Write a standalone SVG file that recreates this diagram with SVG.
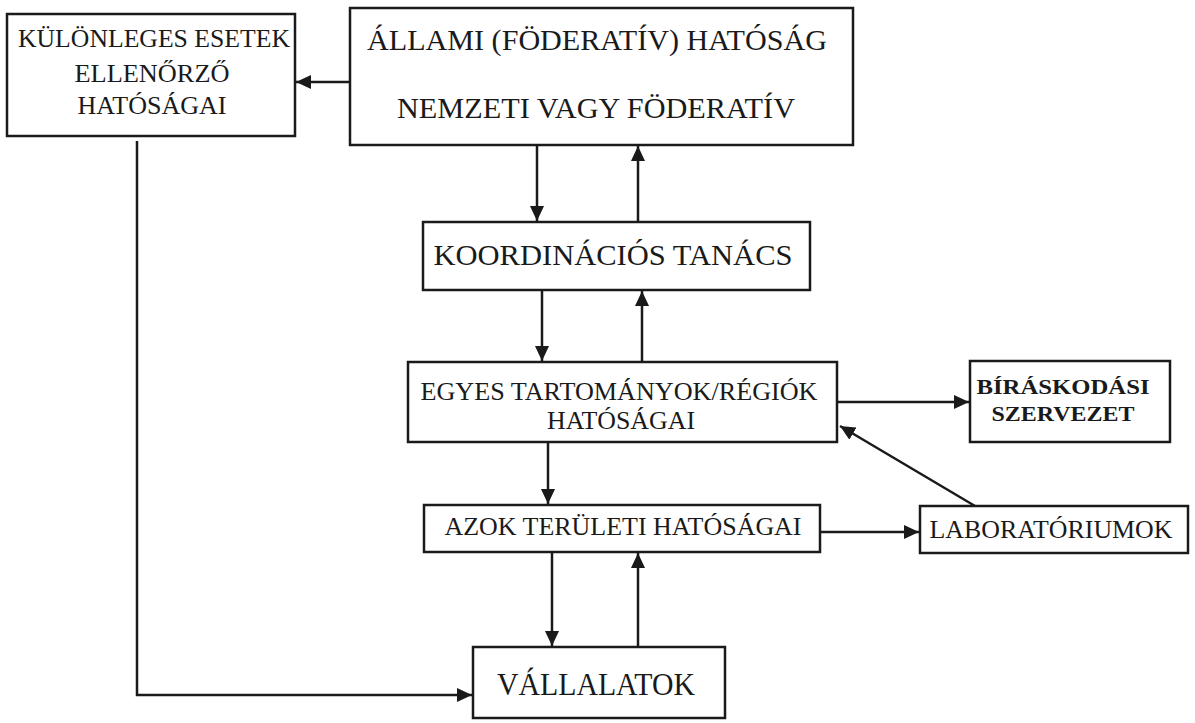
<svg xmlns="http://www.w3.org/2000/svg" width="1195" height="723" viewBox="0 0 1195 723">
<style>
.box{fill:#fff;stroke:#1a1a1a;stroke-width:2.5}
.t{font-family:"Liberation Serif","Times New Roman",serif;fill:#1a1a1a;text-anchor:middle}
.c{fill:none;stroke:#1a1a1a;stroke-width:2.5}
</style>
<defs>
<marker id="ah" markerUnits="userSpaceOnUse" markerWidth="16" markerHeight="14" refX="15" refY="7" orient="auto">
<path d="M0,0 L15,7 L0,14 z" fill="#1a1a1a"/>
</marker>
</defs>
<rect width="1195" height="723" fill="#fff"/>
<g id="connectors">
<line class="c" x1="350" y1="82" x2="296" y2="82" marker-end="url(#ah)"/>
<line class="c" x1="537" y1="146" x2="537" y2="221" marker-end="url(#ah)"/>
<line class="c" x1="638" y1="222" x2="638" y2="146" marker-end="url(#ah)"/>
<line class="c" x1="542" y1="291" x2="542" y2="361" marker-end="url(#ah)"/>
<line class="c" x1="642" y1="362" x2="642" y2="291" marker-end="url(#ah)"/>
<line class="c" x1="838" y1="402" x2="969" y2="402" marker-end="url(#ah)"/>
<line class="c" x1="975" y1="506" x2="840" y2="426" marker-end="url(#ah)"/>
<line class="c" x1="548" y1="443" x2="548" y2="504" marker-end="url(#ah)"/>
<line class="c" x1="821" y1="532" x2="919" y2="532" marker-end="url(#ah)"/>
<line class="c" x1="552" y1="553" x2="552" y2="646" marker-end="url(#ah)"/>
<line class="c" x1="638" y1="647" x2="638" y2="553" marker-end="url(#ah)"/>
<path class="c" d="M137,141 V695 H472" marker-end="url(#ah)"/>
</g>
<g id="kulonleges">
<rect class="box" x="7" y="14" width="288" height="122"/>
<text class="t" x="154" y="47" font-size="26" textLength="272" lengthAdjust="spacingAndGlyphs">KÜLÖNLEGES ESETEK</text>
<text class="t" x="152" y="82" font-size="26" textLength="155" lengthAdjust="spacingAndGlyphs">ELLENŐRZŐ</text>
<text class="t" x="152" y="114" font-size="26" textLength="149" lengthAdjust="spacingAndGlyphs">HATÓSÁGAI</text>
</g>
<g id="allami">
<rect class="box" x="350" y="8" width="503" height="137"/>
<text class="t" x="597" y="50" font-size="30" textLength="460" lengthAdjust="spacingAndGlyphs">ÁLLAMI (FÖDERATÍV) HATÓSÁG</text>
<text class="t" x="596" y="118" font-size="30" textLength="398" lengthAdjust="spacingAndGlyphs">NEMZETI VAGY FÖDERATÍV</text>
</g>
<g id="koordinacios">
<rect class="box" x="423" y="222" width="387" height="68"/>
<text class="t" x="613" y="265" font-size="30" textLength="359" lengthAdjust="spacingAndGlyphs">KOORDINÁCIÓS TANÁCS</text>
</g>
<g id="egyes">
<rect class="box" x="408" y="362" width="429" height="80"/>
<text class="t" x="619" y="400" font-size="25" textLength="397" lengthAdjust="spacingAndGlyphs">EGYES TARTOMÁNYOK/RÉGIÓK</text>
<text class="t" x="621" y="429" font-size="25" textLength="148" lengthAdjust="spacingAndGlyphs">HATÓSÁGAI</text>
</g>
<g id="biraskodasi">
<rect class="box" x="970" y="361" width="200" height="81"/>
<text class="t" x="1063" y="394" font-size="22" font-weight="bold" textLength="173" lengthAdjust="spacingAndGlyphs">BÍRÁSKODÁSI</text>
<text class="t" x="1063" y="421" font-size="22" font-weight="bold" textLength="143" lengthAdjust="spacingAndGlyphs">SZERVEZET</text>
</g>
<g id="azok">
<rect class="box" x="424" y="505" width="396" height="47"/>
<text class="t" x="623" y="535" font-size="26" textLength="357" lengthAdjust="spacingAndGlyphs">AZOK TERÜLETI HATÓSÁGAI</text>
</g>
<g id="laboratoriumok">
<rect class="box" x="920" y="506" width="268" height="47"/>
<text class="t" x="1051" y="538" font-size="26" textLength="243" lengthAdjust="spacingAndGlyphs">LABORATÓRIUMOK</text>
</g>
<g id="vallalatok">
<rect class="box" x="473" y="647" width="252" height="71"/>
<text class="t" x="596" y="695" font-size="32" textLength="198" lengthAdjust="spacingAndGlyphs">VÁLLALATOK</text>
</g>
</svg>
